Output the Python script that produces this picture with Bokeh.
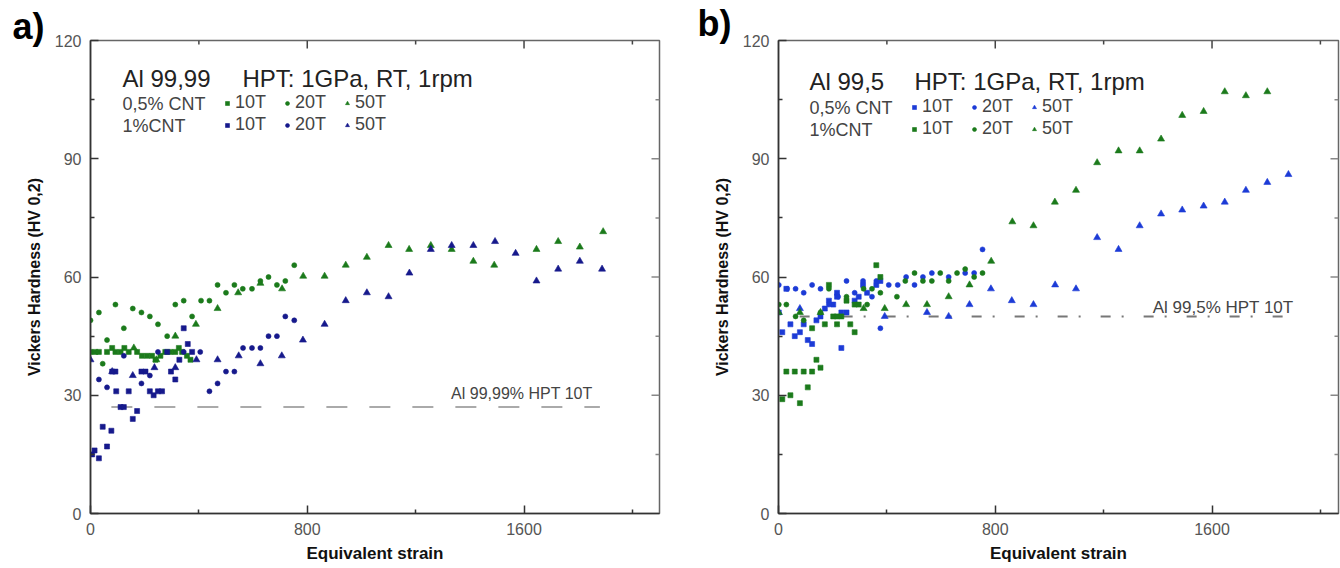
from bokeh.plotting import figure
from bokeh.models import FixedTicker, Label, Legend, LegendItem, Range1d, Title
from bokeh.layouts import row
from bokeh.embed import file_html
from bokeh.resources import INLINE

FONT = "Liberation Sans"

# ---------------- data: panel a (Al 99,99) ----------------
a_g10_x = [0, 18, 31, 61, 80, 92, 111, 125, 141, 172, 190, 209, 227, 240, 258, 276, 295, 313, 326, 338, 356, 369]
a_g10_y = [41, 41, 41, 41, 42, 41, 41, 42, 41, 41, 40, 40, 40, 39, 40, 41, 41, 41, 42, 41, 40, 39]
a_g20_x = [0, 31, 45, 61, 92, 123, 156, 188, 219, 249, 283, 313, 344, 375, 408, 439, 469, 500, 531, 562, 596, 627, 657, 688, 719, 752]
a_g20_y = [49, 51, 38, 44, 53, 47, 52, 51, 50, 48, 45, 53, 54, 50, 54, 54, 58, 56, 58, 57, 57, 59, 60, 58, 59, 63]
a_g50_x = [160, 243, 313, 389, 469, 545, 627, 707, 785, 864, 942, 1020, 1100, 1176, 1256, 1333, 1413, 1490, 1646, 1726, 1806, 1892]
a_g50_y = [42, 39, 45, 48, 52, 56, 58.4, 57, 60.2, 60.2, 63, 65, 68, 67, 68, 67, 64, 63, 67, 69, 67.6, 71.5]
a_b10_x = [6, 15, 31, 45, 61, 77, 80, 92, 95, 111, 123, 141, 156, 172, 188, 203, 219, 233, 249, 264, 283, 297, 313, 328, 344, 359, 375]
a_b10_y = [15, 16, 14, 22, 17, 21, 36, 36, 31, 27, 27, 31, 24, 26, 36, 36, 31, 30, 31, 31, 41, 36, 34, 39, 47, 43, 41]
a_b20_x = [31, 61, 123, 188, 219, 249, 344, 405, 439, 469, 500, 531, 563, 596, 627, 657, 688, 719, 752]
a_b20_y = [34, 32, 40, 33, 35, 41, 41, 41, 31, 33, 36, 36, 42, 42, 42, 45, 45, 50, 49]
a_b50_x = [0, 80, 156, 236, 313, 391, 469, 547, 627, 706, 784, 864, 942, 1020, 1100, 1177, 1256, 1333, 1413, 1493, 1569, 1646, 1726, 1806, 1888]
a_b50_y = [39, 36, 35, 37, 37, 39, 39, 40, 38, 40, 44, 48, 54, 56, 55, 61, 67, 68, 68, 69, 66, 59, 62, 64, 62]
a_ref = 27
a_ref_span = [77, 1880]

# ---------------- data: panel b (Al 99,5) ----------------
b_b10_x = [1, 14, 29, 44, 60, 79, 93, 108, 124, 140, 155, 171, 186, 202, 216, 216, 232, 232, 251, 281, 296, 312, 327, 361, 376]
b_b10_y = [51, 46, 57, 48, 45, 46, 48, 44, 43, 49, 50, 52, 54, 53, 56, 55, 42, 51, 51, 54, 55, 58, 56, 58, 59]
b_b20_x = [1, 32, 63, 93, 124, 155, 186, 220, 251, 281, 312, 345, 361, 376, 407, 440, 471, 502, 533, 566, 628, 689, 722, 753]
b_b20_y = [58, 57, 57, 56, 58, 57, 53, 55, 59, 56, 59, 55, 59, 47, 58, 58, 60, 58, 60, 61, 60, 61, 61, 67]
b_b50_x = [1, 79, 392, 548, 628, 705, 784, 861, 941, 1021, 1098, 1176, 1255, 1333, 1412, 1490, 1569, 1647, 1725, 1804, 1882]
b_b50_y = [51, 52, 50, 51, 50, 53, 57, 54, 53, 58, 57, 70, 67, 73, 76, 77, 78, 79, 82, 84, 86]
b_g10_x = [14, 29, 44, 60, 79, 93, 108, 124, 124, 140, 155, 171, 186, 202, 216, 216, 232, 251, 265, 281, 281, 296, 361, 376]
b_g10_y = [29, 36, 30, 36, 28, 36, 32, 36, 47, 39, 37, 48, 58, 50, 48, 50, 50, 54, 48, 46, 53, 53, 63, 60]
b_g20_x = [1, 29, 63, 93, 155, 186, 251, 314, 327, 345, 376, 437, 468, 502, 533, 566, 597, 628, 659, 689, 722, 753]
b_g20_y = [53, 53, 50, 49, 51, 57, 55, 57, 53, 57, 56, 55, 59, 61, 59, 59, 61, 59, 61, 62, 60, 61]
b_g50_x = [1, 79, 155, 314, 392, 471, 548, 628, 705, 785, 863, 941, 1020, 1098, 1176, 1255, 1333, 1412, 1490, 1569, 1647, 1725, 1804]
b_g50_y = [51, 51, 51, 52, 52, 53, 53, 55, 58, 64, 74, 73, 79, 82, 89, 92, 92, 95, 101, 102, 107, 106, 107]
b_ref = 50
b_ref_span = [78, 1890]

x_major = [0, 800, 1600]
x_minor = [400, 1200, 2000]
y_major = [0, 30, 60, 90, 120]
y_minor = [15, 45, 75, 105]
series_labels = ["10T", "20T", "50T"]

GREEN = "#1b7a1b"
NAVY = "#16198c"
BLUE = "#1c3bd6"

# ---------------- layout constants (page pixels, origin at page top-left) ----------------
FIG_H = 566
FRAME_TOP = 40
FRAME_BOT = 513
KX = 569 / 2100.0          # px per strain unit
KY = (FRAME_BOT - FRAME_TOP) / 120.0
TICK_MAJ = 8
TICK_MIN = 4


def px2x(px, left):
    return (px - left) / KX


def px2y(py):
    return (FRAME_BOT - py) / KY


def style_axis(ax, major, minor):
    ax.ticker = FixedTicker(ticks=major, minor_ticks=minor)
    ax.major_tick_in = TICK_MAJ
    ax.major_tick_out = 0
    ax.minor_tick_in = TICK_MIN
    ax.minor_tick_out = 0
    ax.axis_line_color = "#333333"
    ax.axis_line_width = 1.6
    ax.major_tick_line_color = "#333333"
    ax.minor_tick_line_color = "#333333"
    ax.major_tick_line_width = 1.5
    ax.minor_tick_line_width = 1.5
    ax.major_label_text_font = FONT
    ax.major_label_text_font_size = "16px"
    ax.major_label_text_color = "#555555"
    ax.major_label_standoff = 9
    ax.axis_label_text_font = FONT
    ax.axis_label_text_font_style = "bold"
    ax.axis_label_text_color = "#111111"


def make_panel(letter, letter_px, letter_standoff, frame_left, page_left, width, frame_right,
               series, colors, title1, title2, row_names, ref, ref_span, ref_text, ref_dash,
               ref_color, ref_text_px, ref_text_py, ref_font, title_px, title_py, row_py, legend_px):
    xend = (frame_right - frame_left) / KX
    p = figure(width=width, height=FIG_H, x_range=Range1d(0, xend), y_range=Range1d(0, 120),
               output_backend="svg", toolbar_location=None,
               min_border_left=frame_left - page_left,
               min_border_right=page_left + width - frame_right,
               min_border_top=FRAME_TOP, min_border_bottom=FIG_H - FRAME_BOT)
    p.grid.visible = False
    p.outline_line_color = "#666666"
    p.outline_line_width = 1.5
    p.background_fill_color = "white"
    p.border_fill_color = "white"

    # panel letter as title, pulled left of the frame
    p.title = Title(text=letter, align="left", offset=letter_px - frame_left,
                    text_font=FONT, text_font_style="bold", text_font_size="36px",
                    text_color="#000000", standoff=letter_standoff, vertical_align="bottom")

    style_axis(p.xaxis[0], x_major, x_minor)
    style_axis(p.yaxis[0], y_major, y_minor)
    p.xaxis[0].axis_label = "Equivalent strain"
    p.xaxis[0].axis_label_text_font_size = "17px"
    p.xaxis[0].axis_label_standoff = 6
    p.yaxis[0].axis_label = "Vickers Hardness (HV 0,2)"
    p.yaxis[0].axis_label_text_font_size = "16px"
    p.yaxis[0].axis_label_standoff = 9

    # mirrored inward ticks on top and right edges
    tx = x_major + x_minor
    tlen = [TICK_MAJ] * len(x_major) + [TICK_MIN] * len(x_minor)
    tx_ok = [t for t in tx if 0 < t < xend]
    tl_ok = [l for t, l in zip(tx, tlen) if 0 < t < xend]
    p.segment(x0=tx_ok, y0=[120] * len(tx_ok), x1=tx_ok, y1=[120 - l / KY for l in tl_ok],
              line_color="#444444", line_width=1.5)
    ty = y_major + y_minor
    tyl = [TICK_MAJ] * len(y_major) + [TICK_MIN] * len(y_minor)
    ty_ok = [t for t in ty if 0 < t < 120]
    tyl_ok = [l for t, l in zip(ty, tyl) if 0 < t < 120]
    p.segment(x0=[xend] * len(ty_ok), y0=ty_ok, x1=[xend - l / KX for l in tyl_ok], y1=ty_ok,
              line_color="#888888", line_width=1.5)

    # reference line
    p.segment(x0=[ref_span[0]], y0=[ref], x1=[ref_span[1]], y1=[ref],
              line_color=ref_color, line_width=2, line_dash=ref_dash)
    p.add_layout(Label(x=px2x(ref_text_px, frame_left), y=px2y(ref_text_py), text=ref_text,
                       text_align="right", text_baseline="middle", text_font=FONT,
                       text_font_size=ref_font, text_color="#444444"))

    markers = ["square", "circle", "triangle"]
    sizes = [5, 5, 7]
    rends = []
    for gi, group in enumerate(series):
        rr = []
        for si, (xs, ys) in enumerate(group):
            r = p.scatter(xs, ys, marker=markers[si], size=sizes[si],
                          fill_color=colors[gi], line_color=colors[gi], line_width=0.6)
            rr.append(r)
        rends.append(rr)

    # titles
    p.add_layout(Label(x=px2x(title_px[0], frame_left), y=px2y(title_py), text=title1,
                       text_font=FONT, text_font_size="24px", text_color="#222222",
                       text_baseline="middle"))
    p.add_layout(Label(x=px2x(title_px[1], frame_left), y=px2y(title_py), text=title2,
                       text_font=FONT, text_font_size="24px", text_color="#222222",
                       text_baseline="middle"))
    for ri in range(2):
        p.add_layout(Label(x=px2x(title_px[0], frame_left), y=px2y(row_py[ri]), text=row_names[ri],
                           text_font=FONT, text_font_size="18px", text_color="#444444",
                           text_baseline="middle"))
        leg = Legend(items=[LegendItem(label=series_labels[k], renderers=[rends[ri][k]]) for k in range(3)],
                     orientation="horizontal",
                     location=(legend_px - frame_left - 5, FRAME_BOT - (row_py[ri] + 10)),
                     glyph_width=10, glyph_height=10, label_standoff=3, spacing=16,
                     padding=0, margin=0, border_line_color=None, background_fill_alpha=0,
                     label_text_font=FONT, label_text_font_size="18px",
                     label_text_color="#444444", label_height=20, label_width=20)
        p.add_layout(leg)
    return p


A_W = 680
pa = make_panel("a)", 12, -13, 90, 0, A_W, 659,
                [[(a_g10_x, a_g10_y), (a_g20_x, a_g20_y), (a_g50_x, a_g50_y)],
                 [(a_b10_x, a_b10_y), (a_b20_x, a_b20_y), (a_b50_x, a_b50_y)]],
                [GREEN, NAVY], "Al 99,99", "HPT: 1GPa, RT, 1rpm", ["0,5% CNT", "1%CNT"],
                a_ref, a_ref_span, "Al 99,99% HPT 10T", "21 22", "#aaaaaa", 592, 393, "16px",
                (122, 242), 78, (103, 125), 227)

pb = make_panel("b)", 697, -6, 778, A_W, 1340 - A_W, 1338,
                [[(b_b10_x, b_b10_y), (b_b20_x, b_b20_y), (b_b50_x, b_b50_y)],
                 [(b_g10_x, b_g10_y), (b_g20_x, b_g20_y), (b_g50_x, b_g50_y)]],
                [BLUE, GREEN], "Al 99,5", "HPT: 1GPa, RT, 1rpm", ["0,5% CNT", "1%CNT"],
                b_ref, b_ref_span, "Al 99,5% HPT 10T", "10 11 2 20", "#777777", 1293, 307, "17px",
                (809, 914), 81, (107, 129), 914)

layout = row(pa, pb)
open("out.html", "w").write(file_html(layout, INLINE))
